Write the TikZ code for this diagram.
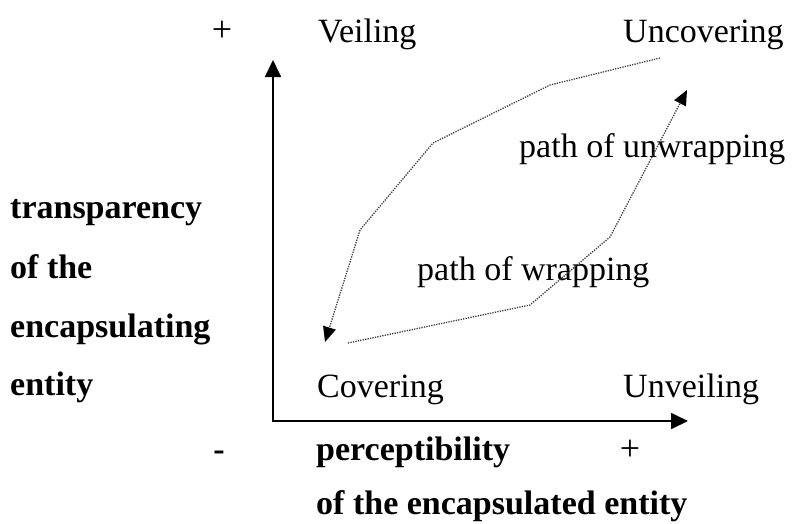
\documentclass[tikz,border=0pt]{standalone}
\usepackage{fontspec}
\setmainfont{Liberation Serif}
\usetikzlibrary{arrows.meta}
\begin{document}
\begin{tikzpicture}[x=1pt,y=-1pt,
  lbl/.style={inner sep=0pt, anchor=base west, font=\fontsize{34}{40}\selectfont},
  blbl/.style={inner sep=0pt, anchor=base west, font=\fontsize{34}{40}\selectfont\bfseries},
  sgn/.style={inner sep=0pt, anchor=center, font=\fontsize{36}{40}\selectfont},
  axis/.style={line width=1.8pt, line join=miter, {Triangle[length=17pt,width=16pt]}-{Triangle[length=17pt,width=16pt]}},
  dpath/.style={line width=1.3pt, dash pattern=on 1.3pt off 1.2pt, draw=black!75, -{Triangle[length=15pt,width=13pt,fill=black,color=black]}}]
\useasboundingbox (0,0) rectangle (793,523);
\fill[white] (0,0) rectangle (793,523);
% axes
\coordinate (O) at (273,421);
\coordinate (Ytip) at (273,60);
\coordinate (Xtip) at (688,421);
\draw[axis] (Ytip) -- (O) -- (Xtip);
% labels
\node[sgn] (plustop) at (222,31) {+};
\node[lbl] (veil) at (318,42) {Veiling};
\node[lbl] (uncov) at (623,42) {Uncovering};
\node[lbl] (unwrap) at (519,157) {path of unwrapping};
\node[lbl] (wrap) at (417,280) {path of wrapping};
\node[lbl] (cov) at (317,397) {Covering};
\node[lbl] (unveil) at (623,397) {Unveiling};
\node[sgn, font=\fontsize{34}{40}\selectfont\bfseries] (minus) at (219,456) {-};
\node[blbl] (percep) at (316,460) {perceptibility};
\node[sgn] (plusbot) at (630,450) {+};
\node[blbl] (encd) at (316,514) {of the encapsulated entity};
\node[blbl] (t1) at (10,218) {transparency};
\node[blbl] (t2) at (10,278) {of the};
\node[blbl] (t3) at (10,337) {encapsulating};
\node[blbl] (t4) at (10,395) {entity};
% dotted paths
\coordinate (a0) at (660,58);
\coordinate (a1) at (550,85);
\coordinate (a2) at (433,143);
\coordinate (a3) at (360,230);
\coordinate (a4) at (325,342);
\draw[dpath] (a0) -- (a1) -- (a2) -- (a3) -- (a4);
\coordinate (b0) at (348,343);
\coordinate (b1) at (530,305);
\coordinate (b2) at (610,237);
\coordinate (b3) at (687,90);
\draw[dpath] (b0) -- (b1) -- (b2) -- (b3);
\end{tikzpicture}
\end{document}
